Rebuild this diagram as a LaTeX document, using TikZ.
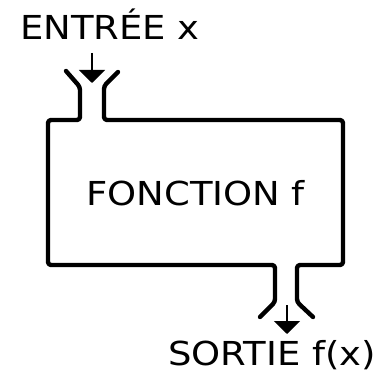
\documentclass[tikz,border=0pt]{standalone}
\usepackage{fontspec}
\setmainfont{DejaVu Sans}
\usetikzlibrary{arrows.meta}
\begin{document}
\begin{tikzpicture}[x=1pt,y=-1pt,
  wall/.style={line width=4.4pt,line cap=round,line join=round,rounded corners=3pt},
  flow/.style={line width=2pt,-{Triangle[width=26pt,length=13pt]}},
  lab/.style={inner sep=0pt,anchor=base west,font=\fontsize{33}{33}\selectfont,xscale=1.12}]
\useasboundingbox (0,0) rectangle (385,374);
\draw[wall] (66,71) -- (80,87) -- (80,120) -- (48,120) -- (48,265) -- (275,265) -- (275,302) -- (260,317);
\draw[wall] (118,72) -- (104,86) -- (104,120) -- (343,120) -- (343,265) -- (297,265) -- (297,302) -- (313,317);
\node[lab] (in) at (20,40) {ENTRÉE x};
\node[lab] (fn) at (86,205) {FONCTION f};
\node[lab] (out) at (168,365) {SORTIE f(x)};
\coordinate (a1) at (92,53);
\coordinate (a2) at (92,83);
\coordinate (b1) at (287,305);
\coordinate (b2) at (287,334);
\draw[flow] (a1) -- (a2);
\draw[flow] (b1) -- (b2);
\end{tikzpicture}
\end{document}
